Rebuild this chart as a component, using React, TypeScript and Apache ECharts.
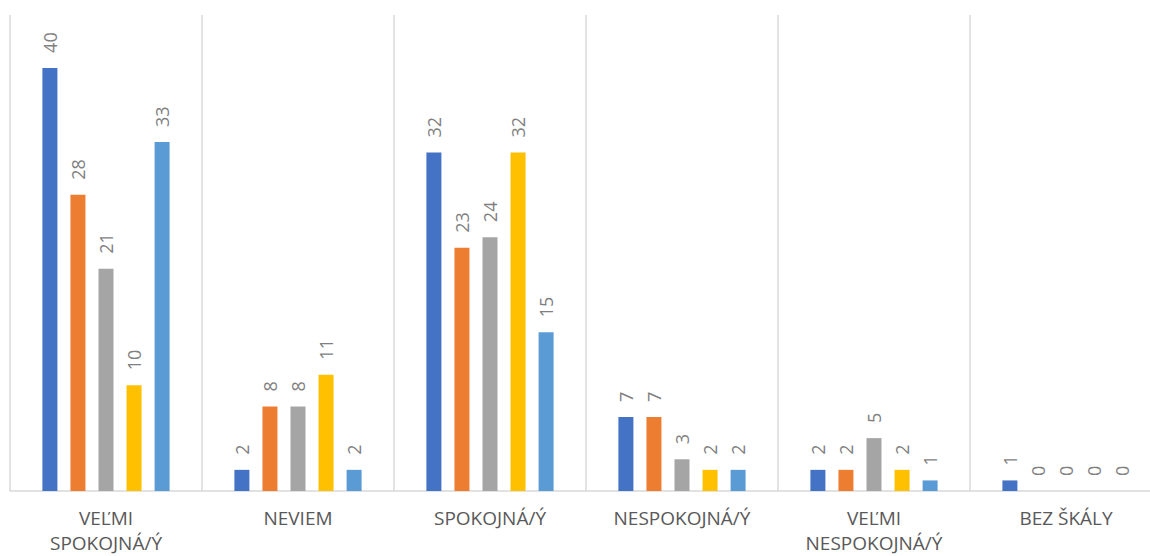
import React, { useEffect, useRef } from "react";
import * as echarts from "echarts";

const categories = [
  "VEĽMI\nSPOKOJNÁ/Ý",
  "NEVIEM",
  "SPOKOJNÁ/Ý",
  "NESPOKOJNÁ/Ý",
  "VEĽMI\nNESPOKOJNÁ/Ý",
  "BEZ ŠKÁLY",
];

const seriesNames = ["Séria 1", "Séria 2", "Séria 3", "Séria 4", "Séria 5"];
const series1 = [40, 2, 32, 7, 2, 1];
const series2 = [28, 8, 23, 7, 2, 0];
const series3 = [21, 8, 24, 3, 5, 0];
const series4 = [10, 11, 32, 2, 2, 0];
const series5 = [33, 2, 15, 2, 1, 0];
const seriesValues = [series1, series2, series3, series4, series5];
const colors = ["#4472C4", "#ED7D31", "#A5A5A5", "#FFC000", "#5B9BD5"];

export default function App() {
  const ref = useRef<HTMLDivElement>(null);
  useEffect(() => {
    document.body.style.margin = "0";
    if (!ref.current) return;
    const chart = echarts.init(ref.current, null, { renderer: "svg" });
    chart.setOption({
      animation: false,
      backgroundColor: "#FFFFFF",
      grid: { left: 10, top: 15, right: 0, height: 476, containLabel: false },
      xAxis: {
        type: "category",
        data: categories,
        boundaryGap: true,
        axisLine: { show: true, lineStyle: { color: "#D9D9D9", width: 1.5 } },
        axisTick: { show: false },
        splitLine: { show: true, lineStyle: { color: "#D9D9D9", width: 1.5 } },
        axisLabel: {
          color: "#595959",
          fontSize: 19,
          fontFamily: "Open Sans, sans-serif",
          lineHeight: 25,
          margin: 14,
          interval: 0,
        },
      },
      yAxis: {
        type: "value",
        min: 0,
        max: 45,
        show: false,
        splitLine: { show: false },
      },
      series: seriesValues.map((vals, i) => ({
        name: seriesNames[i],
        type: "bar",
        data: vals,
        barWidth: 15,
        barGap: "87%",
        itemStyle: { color: colors[i] },
        label: {
          show: true,
          position: "top",
          rotate: 90,
          align: "left",
          verticalAlign: "middle",
          distance: 15,
          color: "#7F7F7F",
          fontSize: 18,
          fontFamily: "Open Sans, sans-serif",
        },
      })),
    });
    return () => chart.dispose();
  }, []);
  return (
    <div style={{ width: 1150, height: 556, overflow: "hidden", position: "relative" }}>
      <div ref={ref} style={{ width: 1162, height: 556 }} />
    </div>
  );
}
